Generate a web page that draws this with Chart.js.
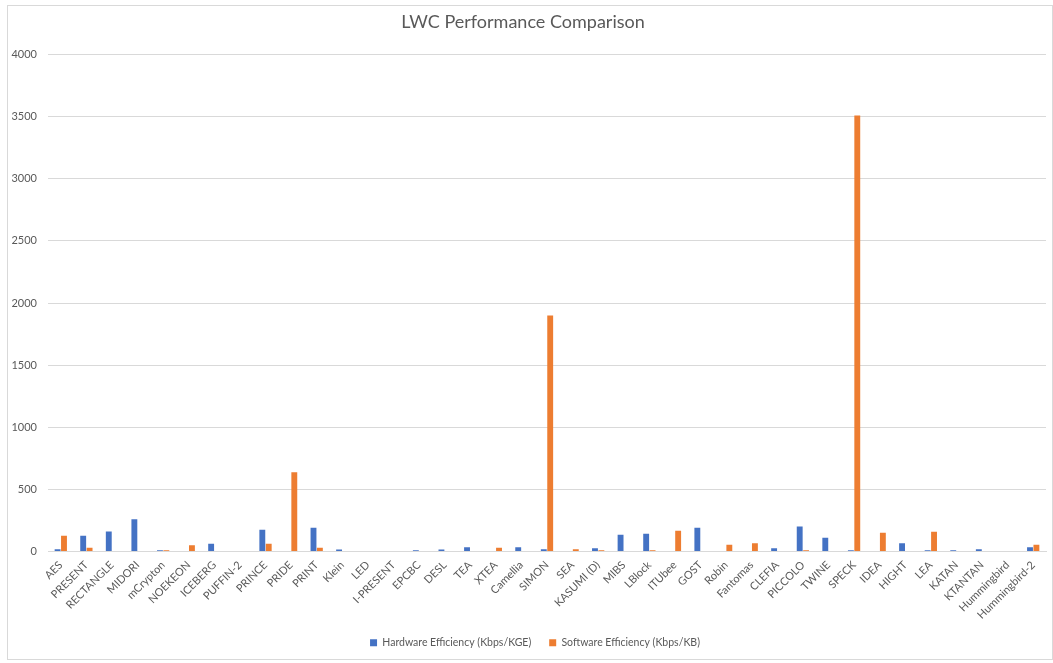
<!DOCTYPE html>
<html>
<head>
<meta charset="utf-8">
<script src="https://cdn.jsdelivr.net/npm/chart.js@4.4.1/dist/chart.umd.min.js"></script>
<style>
  html, body { margin: 0; padding: 0; background: #ffffff; }
  #wrap { position: relative; width: 1053px; height: 663px; }
</style>
</head>
<body>
<div id="wrap"><canvas id="c" width="1053" height="663"></canvas></div>
<script>
const categories = ["AES","PRESENT","RECTANGLE","MIDORI","mCrypton","NOEKEON","ICEBERG","PUFFIN-2","PRINCE","PRIDE","PRINT","Klein","LED","I-PRESENT","EPCBC","DESL","TEA","XTEA","Camellia","SIMON","SEA","KASUMI (D)","MIBS","LBlock","ITUbee","GOST","Robin","Fantomas","CLEFIA","PICCOLO","TWINE","SPECK","IDEA","HIGHT","LEA","KATAN","KTANTAN","Hummingbird","Hummingbird-2"];
const hardwareEfficiency = [19,127,160,259,10,0,62,0,176,0,192,16,0,0,10,16,35,0,35,19,0,27,135,143,0,192,0,0,27,202,111,10,0,67,10,10,19,0,35];
const softwareEfficiency = [127,30,0,0,10,51,0,0,62,637,30,0,0,0,0,0,0,30,0,1900,19,10,0,10,167,0,54,67,0,10,0,3510,151,0,159,0,0,0,54];
const yTicks = [0,500,1000,1500,2000,2500,3000,3500,4000];
const seriesNames = ["Hardware Efficiency (Kbps/KGE)","Software Efficiency (Kbps/KB)"];
const titleText = "LWC Performance Comparison";

const FONT = "Lato, 'Open Sans', sans-serif";
const TXT = "#595959";
const GRID = "#d9d9d9";

const framePlugin = {
  id: 'frame',
  beforeDraw(chart) {
    const ctx = chart.ctx;
    ctx.save();
    ctx.fillStyle = '#ffffff';
    ctx.fillRect(0, 0, chart.width, chart.height);
    ctx.strokeStyle = GRID;
    ctx.lineWidth = 1;
    ctx.strokeRect(7.5, 5.5, 1045, 654);
    ctx.restore();
  },
  afterLayout(chart) {
    if (chart.legend) {
      chart.legend.left += 12;
      chart.legend.right += 12;
    }
  }
};

new Chart(document.getElementById('c'), {
  type: 'bar',
  data: {
    labels: categories,
    datasets: [
      { label: seriesNames[0], data: hardwareEfficiency, backgroundColor: '#4472C4', borderWidth: 0, categoryPercentage: 0.5, barPercentage: 0.92 },
      { label: seriesNames[1], data: softwareEfficiency, backgroundColor: '#ED7D31', borderWidth: 0, categoryPercentage: 0.5, barPercentage: 0.92 }
    ]
  },
  options: {
    responsive: false,
    animation: false,
    devicePixelRatio: 1,
    layout: { padding: { left: 0, right: 7, top: 0, bottom: 5 } },
    plugins: {
      title: {
        display: true,
        text: titleText,
        color: TXT,
        font: { family: FONT, size: 18, weight: 'normal' },
        padding: { top: 11, bottom: 22 }
      },
      legend: {
        position: 'bottom',
        labels: {
          color: TXT,
          font: { family: FONT, size: 10.5 },
          boxWidth: 7,
          boxHeight: 7,
          padding: 18
        }
      },
      tooltip: { enabled: false }
    },
    scales: {
      x: {
        grid: { display: false, drawTicks: false },
        border: { display: true, color: GRID },
        ticks: {
          color: TXT,
          font: { family: FONT, size: 11 },
          minRotation: 45,
          maxRotation: 45,
          autoSkip: false,
          padding: 7
        },
        afterFit(scale) { scale.height = 68; }
      },
      y: {
        min: 0,
        max: 4000,
        afterBuildTicks(scale) { scale.ticks = yTicks.map(v => ({ value: v })); },
        grid: { color: GRID, drawTicks: false },
        border: { display: false },
        ticks: {
          color: TXT,
          font: { family: FONT, size: 11 },
          padding: 11,
          callback: (v) => String(v)
        },
        afterFit(scale) { scale.width = 48; }
      }
    }
  },
  plugins: [framePlugin]
});
</script>
</body>
</html>
